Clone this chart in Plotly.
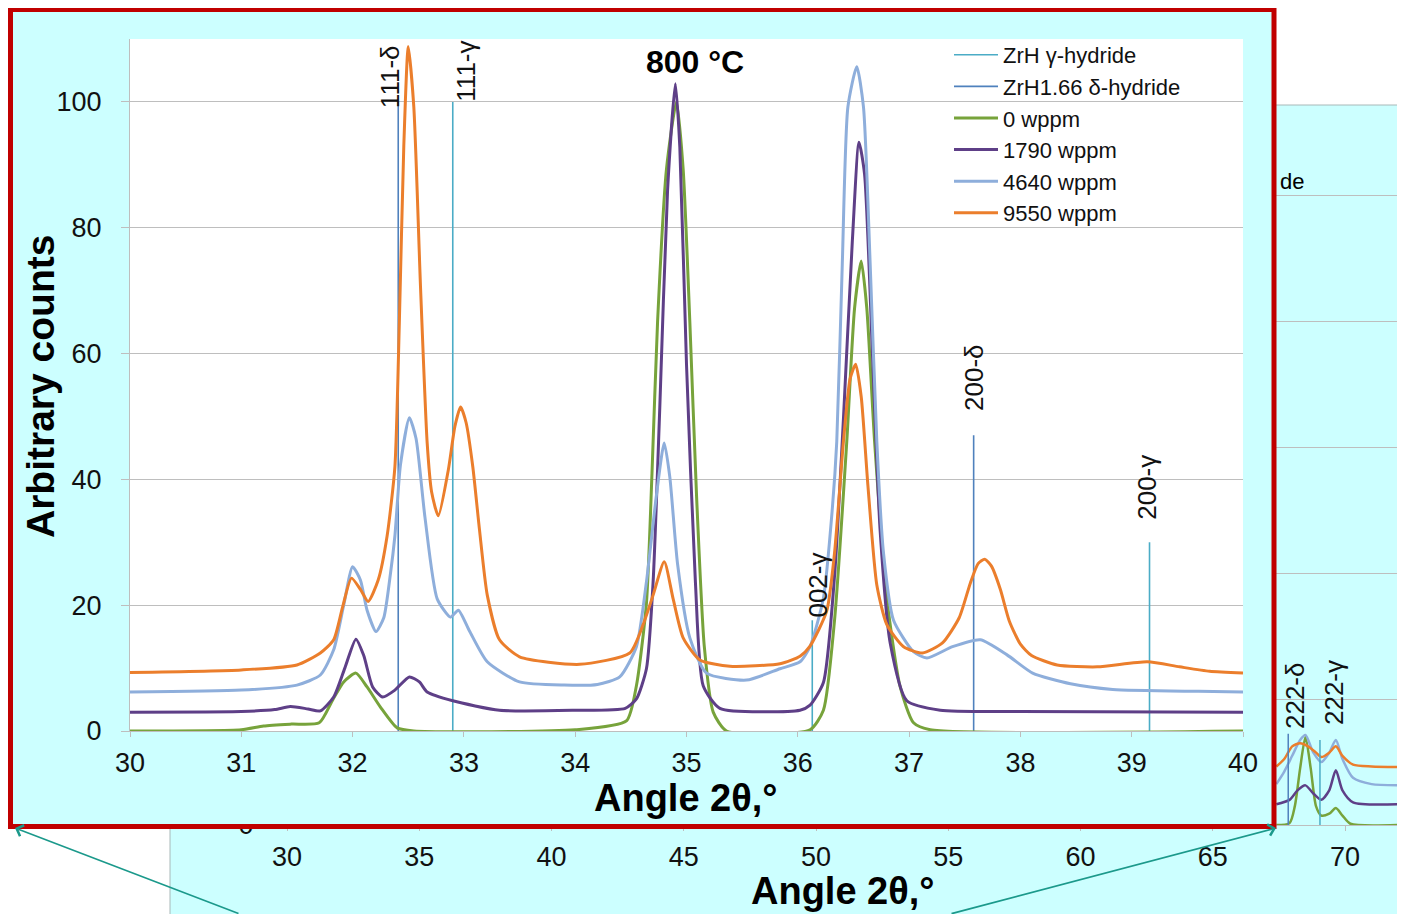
import plotly.graph_objects as go

W, H = 1405, 914
OFF = 8  # the page body adds an 8 px margin around the figure
FONT = "Liberation Sans, Arial, sans-serif"
CYAN = "#CCFFFF"
GRID = "#BEBEBE"

# ---- main chart (800 °C, 30-40°) ----
green_x = [30.0, 31.0, 31.2, 31.45, 31.7, 31.82, 31.92, 32.03, 32.13, 32.25, 32.4, 32.55, 34.0, 34.46, 34.55,
           34.64, 34.69, 34.74, 34.82, 34.91, 34.97, 35.03, 35.09, 35.16, 35.24, 35.36, 36.11, 36.23, 36.33,
           36.44, 36.51, 36.57, 36.62, 36.69, 36.8, 36.92, 37.04, 37.19, 40.0]
green_y = [0.0, 0.2, 0.8, 1.1, 1.3, 4.9, 7.8, 9.2, 7.0, 3.8, 0.5, 0.0, 0.2, 1.6, 7.2,
           20.3, 41.0, 65.0, 89.3, 100.0, 89.3, 65.0, 37.5, 13.4, 3.0, 0.0, 0.2, 3.3, 17.6,
           46.0, 67.2, 74.7, 67.2, 46.0, 21.1, 7.0, 1.3, 0.2, 0.0]

purple_x = [30.0, 31.0, 31.3, 31.44, 31.6, 31.71, 31.83, 31.93, 32.03, 32.1, 32.18, 32.27, 32.38, 32.51,
            32.6, 32.67, 32.9, 33.32, 34.0, 34.45, 34.55, 34.64, 34.7, 34.76, 34.83, 34.9, 34.94, 35.0,
            35.08, 35.15, 35.3, 36.02, 36.11, 36.23, 36.33, 36.41, 36.49, 36.55, 36.6, 36.67, 36.74,
            36.83, 36.98, 37.28, 38.0, 40.0]
purple_y = [3.0, 3.1, 3.4, 3.9, 3.5, 3.2, 5.4, 10.0, 14.6, 12.0, 7.0, 5.4, 6.5, 8.6,
            7.8, 6.2, 4.8, 3.3, 3.3, 3.6, 5.1, 9.9, 23.7, 51.4, 86.0, 102.9, 92.8, 58.3,
            23.7, 7.2, 3.6, 3.3, 4.1, 7.7, 24.6, 49.6, 77.9, 93.6, 88.5, 60.3, 31.8,
            14.0, 4.8, 3.3, 3.1, 3.0]

blue_x = [30.0, 31.0, 31.5, 31.71, 31.83, 31.92, 32.0, 32.07, 32.13, 32.21, 32.28, 32.34, 32.38, 32.43,
          32.51, 32.57, 32.65, 32.76, 32.88, 32.95, 33.05, 33.21, 33.5, 33.9, 34.2, 34.4, 34.55, 34.64,
          34.73, 34.8, 34.85, 34.92, 35.03, 35.18, 35.54, 35.84, 36.02, 36.11, 36.23, 36.31, 36.35,
          36.4, 36.45, 36.53, 36.59, 36.65, 36.71, 36.77, 36.86, 37.04, 37.16, 37.39, 37.64, 37.88,
          38.11, 38.45, 38.83, 39.6, 40.0]
blue_y = [6.2, 6.5, 7.3, 8.9, 12.9, 20.0, 26.1, 24.0, 19.2, 15.8, 18.0, 25.0, 31.0, 42.3,
          49.8, 46.5, 34.0, 21.0, 18.1, 19.2, 15.9, 11.0, 7.8, 7.3, 7.4, 8.6, 13.4, 23.7,
          37.5, 45.8, 40.4, 26.5, 14.8, 9.2, 8.1, 9.9, 11.0, 13.4, 21.1, 35.3, 46.0,
          74.4, 99.2, 105.6, 99.2, 74.4, 46.0, 28.3, 17.6, 12.6, 11.6, 13.4, 14.5, 12.1,
          9.2, 7.5, 6.6, 6.3, 6.2]

orange_x = [30.0, 31.0, 31.5, 31.71, 31.83, 31.91, 31.99, 32.07, 32.14, 32.23, 32.31, 32.38, 32.42, 32.46,
            32.5, 32.55, 32.61, 32.67, 32.71, 32.77, 32.86, 32.92, 32.97, 33.02, 33.08, 33.14, 33.21,
            33.32, 33.5, 34.04, 34.49, 34.61, 34.7, 34.8, 34.88, 34.97, 35.12, 35.39, 35.84, 36.02,
            36.11, 36.26, 36.33, 36.41, 36.47, 36.52, 36.57, 36.63, 36.71, 36.8, 36.95, 37.12, 37.3,
            37.45, 37.55, 37.62, 37.68, 37.74, 37.82, 37.9, 38.0, 38.1, 38.33, 38.69, 39.14, 39.43,
            39.7, 40.0]
orange_y = [9.3, 9.7, 10.5, 12.4, 14.5, 19.7, 24.3, 22.5, 20.6, 24.0, 31.0, 42.0, 65.0, 93.0,
            108.8, 99.2, 70.7, 45.8, 38.0, 34.2, 41.5, 48.5, 51.5, 49.0, 42.0, 32.0, 21.6,
            14.5, 11.8, 10.6, 12.4, 16.9, 21.6, 26.9, 21.0, 14.8, 11.3, 10.3, 10.7, 11.9,
            13.5, 19.1, 28.3, 46.0, 56.0, 58.3, 53.1, 39.0, 23.2, 16.9, 13.4, 12.4, 14.0,
            18.0, 23.5, 26.6, 27.3, 26.2, 22.5, 17.5, 13.8, 12.0, 10.5, 10.2, 11.0, 10.2,
            9.5, 9.2]

gamma_pos = [32.90, 36.13, 39.16]
gamma_top = [100.0, 17.6, 30.0]
gamma_lbl = ["111-γ", "002-γ", "200-γ"]
delta_pos = [32.41, 37.58]
delta_top = [100.0, 47.0]
delta_lbl = ["111-δ", "200-δ"]

# ---- background chart (30-72°), only the part that is not covered ----
bg_green_x = [67.4, 67.9, 68.1, 68.3, 68.5, 68.7, 68.9, 69.1, 69.4, 69.65, 69.9, 70.2, 72.0]
bg_green_y = [0.0, 0.3, 3.0, 9.0, 14.0, 9.0, 3.0, 1.5, 1.8, 2.7, 1.5, 0.2, 0.0]
bg_purple_x = [67.4, 67.9, 68.2, 68.5, 68.8, 69.1, 69.4, 69.65, 69.9, 70.3, 72.0]
bg_purple_y = [3.3, 4.0, 5.5, 6.3, 5.0, 4.0, 5.5, 8.7, 5.5, 3.6, 3.3]
bg_blue_x = [67.4, 67.7, 68.0, 68.3, 68.5, 68.8, 69.1, 69.4, 69.65, 69.9, 70.3, 71.0, 72.0]
bg_blue_y = [6.5, 8.5, 11.0, 13.5, 14.3, 11.5, 10.0, 11.5, 13.5, 10.5, 7.5, 6.5, 6.3]
bg_orange_x = [67.4, 67.7, 68.0, 68.3, 68.6, 68.9, 69.1, 69.4, 69.65, 69.9, 70.3, 71.0, 72.0]
bg_orange_y = [9.3, 10.5, 12.5, 13.0, 12.5, 11.5, 10.8, 11.5, 12.5, 11.0, 9.6, 9.3, 9.2]
bg_gamma_pos, bg_gamma_top, bg_gamma_lbl = [69.05], [13.5], ["222-γ"]
bg_delta_pos, bg_delta_top, bg_delta_lbl = [67.85], [14.5], ["222-δ"]

series = ["0 wppm", "1790 wppm", "4640 wppm", "9550 wppm"]
colors = ["#77A33B", "#5E3F87", "#8EAEDB", "#EB7E2C"]
GAMMA_C, DELTA_C = "#4BACC6", "#4F81BD"

# label offsets (px) from the top of each reference line
main_lbl_shift = {"111-γ": (13, 31), "002-γ": (6, 35), "200-γ": (-2, 55), "111-δ": (-8, 25), "200-δ": (1, 58)}
bg_lbl_shift = {"222-γ": (14, 48), "222-δ": (7, 38)}


def px(x):
    return (x - OFF) / W


def py(y):
    return 1 - (y - OFF) / H


def sticks(pos, top):
    xs, ys = [], []
    for p, t in zip(pos, top):
        xs += [p, p, None]
        ys += [0, t, None]
    return xs, ys


fig = go.Figure()

# background chart -> x / y
for xs, ys, c in zip([bg_green_x, bg_purple_x, bg_blue_x, bg_orange_x],
                     [bg_green_y, bg_purple_y, bg_blue_y, bg_orange_y], colors):
    fig.add_trace(go.Scatter(x=xs, y=ys, mode="lines", line=dict(color=c, width=2.5, shape="spline", smoothing=0.7),
                             showlegend=False, hoverinfo="skip", xaxis="x", yaxis="y"))
for pos, top, c in [(bg_gamma_pos, bg_gamma_top, GAMMA_C), (bg_delta_pos, bg_delta_top, DELTA_C)]:
    sx, sy = sticks(pos, top)
    fig.add_trace(go.Scatter(x=sx, y=sy, mode="lines", line=dict(color=c, width=1.5),
                             showlegend=False, hoverinfo="skip", xaxis="x", yaxis="y"))

# cyan panel of the zoomed chart, covering the background one -> x2 / y2
fig.add_trace(go.Scatter(x=[0, 1, 1, 0, 0], y=[0, 0, 1, 1, 0], fill="toself", fillcolor=CYAN,
                         mode="lines", line=dict(width=0), showlegend=False, hoverinfo="skip",
                         xaxis="x2", yaxis="y2"))

# main chart -> x3 / y3
for name, pos, top, c in [("ZrH γ-hydride", gamma_pos, gamma_top, GAMMA_C),
                          ("ZrH1.66 δ-hydride", delta_pos, delta_top, DELTA_C)]:
    sx, sy = sticks(pos, top)
    fig.add_trace(go.Scatter(x=sx, y=sy, mode="lines", name=name, line=dict(color=c, width=1.6),
                             xaxis="x3", yaxis="y3"))
for name, xs, ys, c in zip(series, [green_x, purple_x, blue_x, orange_x],
                           [green_y, purple_y, blue_y, orange_y], colors):
    fig.add_trace(go.Scatter(x=xs, y=ys, mode="lines", name=name,
                             line=dict(color=c, width=3, shape="spline", smoothing=0.6),
                             xaxis="x3", yaxis="y3"))

tickfont = dict(family=FONT, size=27, color="#111")
ax_common = dict(showgrid=False, zeroline=False, showline=True, linecolor=GRID, ticks="outside",
                 tickcolor=GRID, tickfont=tickfont, automargin=False)


def text_at(x, y, text, size, angle=0, anchor="center"):
    return dict(x=px(x), y=py(y), xref="paper", yref="paper", text=text, showarrow=False,
                textangle=angle, xanchor=anchor, yanchor="middle",
                font=dict(family=FONT, size=size, color="#000"))


annotations = []
for lbls, pos, top, shifts, xr, yr in [
        (gamma_lbl, gamma_pos, gamma_top, main_lbl_shift, "x3", "y3"),
        (delta_lbl, delta_pos, delta_top, main_lbl_shift, "x3", "y3"),
        (bg_gamma_lbl, bg_gamma_pos, bg_gamma_top, bg_lbl_shift, "x", "y"),
        (bg_delta_lbl, bg_delta_pos, bg_delta_top, bg_lbl_shift, "x", "y")]:
    for lb, p, t in zip(lbls, pos, top):
        dx, dy = shifts[lb]
        annotations.append(dict(x=p, y=t, xref=xr, yref=yr, text=lb, showarrow=False, textangle=-90,
                                xanchor="center", yanchor="middle", xshift=dx, yshift=dy,
                                font=dict(family=FONT, size=26, color="#111")))

annotations += [
    text_at(695, 62, "<b>800 °C</b>", 32),
    text_at(41, 387, "<b>Arbitrary counts</b>", 39, angle=-90),
    text_at(686, 798, "<b>Angle 2θ,°</b>", 38),
    text_at(843, 891, "<b>Angle 2θ,°</b>", 38),
    text_at(1278, 181, "de", 22, anchor="left"),
    # arrows pointing at the corners of the zoom box
    dict(x=px(15), y=py(828), xref="paper", yref="paper", text="", showarrow=True, ax=225, ay=86,
         arrowhead=4, arrowsize=1.4, arrowwidth=1.6, arrowcolor="#1B998B", standoff=0),
    dict(x=px(1276), y=py(828), xref="paper", yref="paper", text="", showarrow=True, ax=-326, ay=86,
         arrowhead=4, arrowsize=1.4, arrowwidth=1.6, arrowcolor="#1B998B", standoff=0),
]

shapes = [
    dict(type="rect", xref="paper", yref="paper", x0=px(170), x1=px(1430), y0=py(940), y1=py(105),
         fillcolor=CYAN, line=dict(color="#A8B8B8", width=1), layer="below"),
    dict(type="rect", xref="paper", yref="paper", x0=px(10.5), x1=px(1274), y0=py(826.5), y1=py(9.5),
         line=dict(color="#C00000", width=5), layer="above"),
]

fig.update_layout(
    width=W, height=H, margin=dict(l=0, r=0, t=0, b=0, autoexpand=False),
    paper_bgcolor="white", plot_bgcolor="white",
    font=dict(family=FONT),
    xaxis=dict(domain=[px(268), px(1398)], range=[29.28, 72.0], dtick=5, ticklen=5, anchor="y",
               ticklabelstandoff=3, **ax_common),
    yaxis=dict(domain=[py(825), py(133)], range=[0, 110], dtick=20, ticklen=8, anchor="x",
               **{**ax_common, "showgrid": True, "gridcolor": GRID}),
    xaxis2=dict(domain=[px(10), px(1275)], range=[0, 1], visible=False, anchor="y2", automargin=False),
    yaxis2=dict(domain=[py(828), py(8)], range=[0, 1], visible=False, anchor="x2", automargin=False),
    xaxis3=dict(domain=[px(130), px(1243)], range=[30, 40], dtick=1, ticklen=5, anchor="y3",
                ticklabelstandoff=3, **ax_common),
    yaxis3=dict(domain=[py(731), py(39)], range=[0, 110], dtick=20, ticklen=8, anchor="x3",
                ticklabelstandoff=14, **{**ax_common, "showgrid": True, "gridcolor": GRID}),
    legend=dict(x=px(949), y=py(34), xanchor="left", yanchor="top", bgcolor="rgba(0,0,0,0)",
                itemwidth=44, font=dict(family=FONT, size=22, color="#111"), tracegroupgap=0),
    annotations=annotations,
    shapes=shapes,
)

fig.write_html("out.html")
